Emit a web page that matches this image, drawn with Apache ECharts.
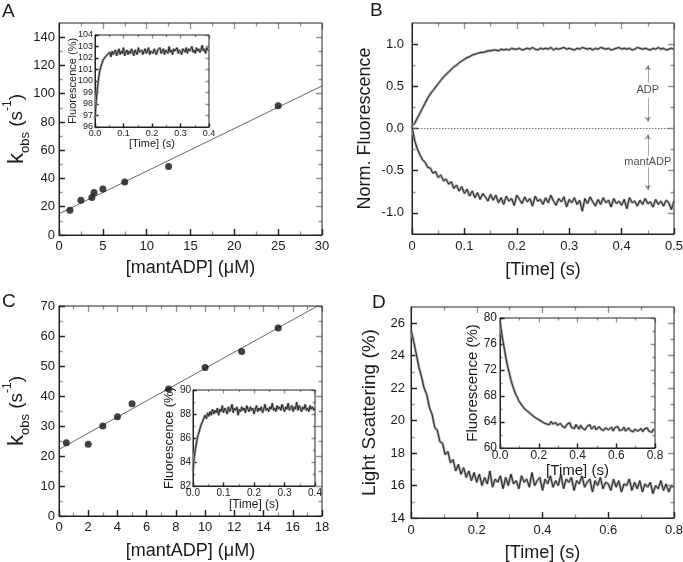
<!DOCTYPE html>
<html><head><meta charset="utf-8">
<script src="https://cdn.jsdelivr.net/npm/echarts@6/dist/echarts.min.js"></script>
<style>html,body{margin:0;padding:0;background:#fff}#c{width:683px;height:562px}</style>
</head><body><div id="c"></div>
<script>
// ---------------- DATA ----------------
// Panel A: kobs vs [mantADP]
const aConc = [1.25, 2.5, 3.75, 4, 5, 7.5, 12.5, 25];
const aKobs = [17.5, 24.5, 26.5, 30, 32.5, 37.5, 48.5, 91.5];
const aFitX = [0, 30];
const aFitY = [15, 105.5];
// Panel A inset: fluorescence trace (time from 0, step 0.004 s)
const aInsetT0 = 0, aInsetDt = 0.004;
const aInsetF = [96.8,98.2,99.3,100.1,100.8,101.2,101.5,101.8,101.9,102.1,
102.0,102.3,102.2,102.5,102.1,102.6,102.3,102.4,102.7,102.2,
102.5,102.8,102.3,102.6,102.4,102.9,102.2,102.5,102.7,102.3,
102.6,102.4,102.8,102.5,102.2,102.7,102.6,102.3,102.9,102.5,
102.4,102.7,102.3,102.6,102.8,102.4,102.5,102.9,102.3,102.6,
102.7,102.4,102.8,102.5,102.3,102.7,102.6,102.9,102.4,102.5,
102.8,102.3,102.7,102.6,102.4,103.0,102.5,102.7,102.3,102.8,
102.6,102.5,102.9,102.4,102.7,102.6,102.3,102.8,102.7,102.5,
102.9,102.4,102.8,102.6,102.7,103.0,102.5,102.7,102.4,102.9,
102.6,102.8,102.5,102.7,103.1,102.6,102.8,102.4,102.9,102.7,
102.6];
// Panel B: normalised fluorescence traces (time from 0, step 0.005 s)
const bT0 = 0, bDt = 0.005;
const bADP = [0.03,0.06,0.12,0.18,0.24,0.30,0.36,0.41,0.45,0.49,
0.53,0.57,0.61,0.64,0.67,0.70,0.73,0.75,0.78,0.80,
0.82,0.84,0.85,0.87,0.88,0.89,0.90,0.90,0.91,0.92,
0.92,0.93,0.93,0.92,0.94,0.93,0.94,0.93,0.95,0.94,0.94,
0.95,0.93,0.94,0.95,0.94,0.96,0.94,0.93,0.95,0.94,
0.95,0.94,0.96,0.93,0.95,0.94,0.95,0.96,0.94,0.95,
0.94,0.93,0.95,0.94,0.96,0.95,0.94,0.95,0.93,0.95,
0.94,0.96,0.95,0.94,0.95,0.93,0.94,0.95,0.96,0.94,
0.95,0.94,0.95,0.93,0.94,0.96,0.95,0.94,0.95,0.94,
0.93,0.95,0.94,0.96,0.94,0.95,0.93,0.94,0.95,0.94];
const bMantADP = [0.02,-0.14,-0.24,-0.31,-0.37,-0.40,-0.46,-0.47,-0.53,-0.51,
-0.58,-0.55,-0.62,-0.60,-0.66,-0.63,-0.71,-0.67,-0.74,-0.69,-0.77,
-0.72,-0.80,-0.74,-0.82,-0.76,-0.84,-0.77,-0.81,-0.86,-0.78,
-0.85,-0.79,-0.88,-0.82,-0.90,-0.80,-0.86,-0.83,-0.91,-0.79,
-0.84,-0.89,-0.81,-0.87,-0.83,-0.92,-0.80,-0.86,-0.84,-0.90,
-0.82,-0.88,-0.79,-0.86,-0.91,-0.83,-0.87,-0.81,-0.93,-0.84,
-0.88,-0.82,-0.90,-0.85,-0.98,-0.83,-0.89,-0.81,-0.87,-0.92,
-0.84,-0.90,-0.82,-0.88,-0.85,-0.93,-0.83,-0.89,-0.86,-0.91,
-0.84,-0.95,-0.82,-0.88,-0.86,-0.92,-0.85,-0.90,-0.83,-0.89,
-0.87,-0.93,-0.84,-0.90,-0.86,-0.92,-0.85,-0.88,-0.96,-0.86];
// Panel B annotations
const bArrowX = 0.45;
const bArrows = [[0.54, 0.75], [0.36, 0.08], [-0.32, -0.07], [-0.46, -0.73]];
const bLabels = [['ADP', 0.46], ['mantADP', -0.40]];
// Panel C: kobs vs [mantADP]
const cConc = [0.5, 2, 3, 4, 5, 7.5, 10, 12.5, 15];
const cKobs = [24.4, 23.9, 30.0, 33.1, 37.4, 42.3, 49.5, 54.8, 62.7];
const cFitX = [0, 17.7];
const cFitY = [22.2, 70];
// Panel C inset (time from 0, step 0.004 s)
const cInsetT0 = 0, cInsetDt = 0.004;
const cInsetF = [83.3,84.4,85.1,85.7,86.2,86.5,86.9,87.2,87.4,87.7,
87.9,87.6,88.1,87.8,88.2,87.9,88.4,88.0,88.3,88.1,
88.5,87.9,88.4,88.2,88.7,88.1,88.5,88.3,88.0,88.6,
88.2,88.4,88.8,88.1,88.5,88.3,88.6,87.9,88.4,88.2,
88.6,88.3,88.5,88.1,88.7,88.4,88.2,88.6,88.3,88.5,
88.0,88.4,88.7,88.2,88.5,88.3,88.6,88.1,88.4,88.8,
88.3,88.5,88.2,88.6,88.4,88.9,88.3,88.5,88.2,88.7,
88.4,88.6,88.3,88.8,88.5,88.2,88.6,88.4,88.9,88.3,
88.5,88.7,88.2,88.6,88.4,89.0,88.3,88.7,88.5,88.2,
88.6,88.4,88.8,88.3,88.5,88.2,88.7,88.4,88.6,88.3,88.5];
// Panel D: light scattering (time from 0, step 0.008 s)
const dT0 = 0, dDt = 0.008;
const dLS = [25.6,24.9,24.1,23.3,22.7,22.0,21.6,20.8,20.4,19.6,
19.4,18.7,18.6,17.9,18.1,17.4,17.6,16.9,17.3,16.7,
17.1,16.5,16.9,16.3,16.8,16.2,
16.7,16.0,16.5,16.1,16.9,15.9,16.4,16.2,16.6,15.8,
16.5,16.0,16.7,16.1,16.3,15.8,16.6,16.2,16.4,15.9,
16.8,16.0,16.3,16.5,15.7,16.4,16.1,16.6,15.9,16.3,
16.0,16.7,15.8,16.4,16.2,16.5,15.7,16.3,16.1,16.6,
15.9,16.2,16.4,15.6,16.3,16.0,16.5,15.8,16.2,16.1,
15.7,16.4,15.9,16.3,15.6,16.1,16.0,16.4,15.7,16.2,
15.8,16.3,15.6,16.1,15.9,16.2,15.5,16.0,15.8,16.3,
15.7,16.1,15.6,16.0,15.9];
// Panel D inset (time from 0, step 0.008 s)
const dInsetT0 = 0, dInsetDt = 0.008;
const dInsetF = [79.5,77.8,76.3,75.0,73.6,72.5,71.5,70.5,69.7,69.0,
68.3,67.9,67.3,67.1,66.6,66.5,66.0,66.1,65.6,65.7,
65.2,65.3,64.8,65.0,64.5,64.6,
64.2,64.4,63.9,64.2,63.7,64.0,63.6,64.1,63.7,63.5,
63.9,63.5,63.2,63.8,63.4,63.7,63.1,63.6,63.3,63.9,
63.2,63.5,63.0,63.6,63.3,62.9,63.5,63.1,63.4,62.8,
63.3,63.0,63.6,62.9,63.2,63.4,62.8,63.1,63.3,62.9,
63.2,62.7,63.1,63.4,62.8,63.0,63.2,62.6,63.1,62.9,
63.3,62.7,63.0,62.8,63.2,62.6,62.9,63.1,62.7,63.0,
62.5,62.9,63.1,62.6,62.8,63.0,62.5,62.9,62.7,63.1,
62.6,62.8,62.4,62.9,62.7];
// Tick values
const aXTicks = [0,5,10,15,20,25,30], aXMinor = [2.5,7.5,12.5,17.5,22.5,27.5];
const aYTicks = [0,20,40,60,80,100,120,140], aYMinor = [10,30,50,70,90,110,130];
const aiXTicks = [0,0.1,0.2,0.3,0.4], aiXMinor = [0.05,0.15,0.25,0.35];
const aiYTicks = [96,97,98,99,100,101,102,103,104], aiYMinor = [];
const bXTicks = [0,0.1,0.2,0.3,0.4,0.5], bXMinor = [0.05,0.15,0.25,0.35,0.45];
const bYTicks = [-1,-0.5,0,0.5,1], bYMinor = [-0.75,-0.25,0.25,0.75];
const cXTicks = [0,2,4,6,8,10,12,14,16,18], cXMinor = [1,3,5,7,9,11,13,15,17];
const cYTicks = [0,10,20,30,40,50,60,70], cYMinor = [5,15,25,35,45,55,65];
const ciXTicks = [0,0.1,0.2,0.3,0.4], ciXMinor = [0.05,0.15,0.25,0.35];
const ciYTicks = [82,84,86,88,90], ciYMinor = [83,85,87,89];
const dXTicks = [0,0.2,0.4,0.6,0.8], dXMinor = [0.1,0.3,0.5,0.7];
const dYTicks = [14,16,18,20,22,24,26], dYMinor = [15,17,19,21,23,25];
const diXTicks = [0,0.2,0.4,0.6,0.8], diXMinor = [0.1,0.3,0.5,0.7];
const diYTicks = [60,64,68,72,76,80], diYMinor = [62,66,70,74,78];

// ---------------- CHART ----------------
const FONT = '"Liberation Sans", Arial, sans-serif';
const AX = '#222';
const TXT = '#1a1a1a';
const chart = echarts.init(document.getElementById('c'));

function trace(t0, dt, vals) { return vals.map((v, i) => [t0 + i * dt, v]); }
function pairs(xs, ys) { return xs.map((x, i) => [x, ys[i]]); }

const fmtInt = v => String(Math.round(v));
const fmt1 = v => v.toFixed(1);
const fmt1z = v => (v === 0 ? '0' : v.toFixed(1));

const grids = [
  {left: 59, top: 23, width: 263, height: 212},   // 0 A
  {left: 95, top: 35, width: 114, height: 92},    // 1 A inset
  {left: 412, top: 23, width: 262, height: 211},  // 2 B
  {left: 59, top: 306, width: 263, height: 210},  // 3 C
  {left: 193, top: 390, width: 122, height: 96},  // 4 C inset
  {left: 411, top: 307, width: 263, height: 211}, // 5 D
  {left: 500, top: 318, width: 155, height: 130}  // 6 D inset
];

const xAxes = [], yAxes = [];
const ranges = {};
function axisSet(dim, gi, c) {
  ranges[gi] = ranges[gi] || {};
  ranges[gi][dim] = c;
  const ax = {gridIndex: gi, type: 'value', min: c.min, max: c.max,
    position: dim === 'x' ? 'bottom' : 'left',
    splitLine: {show: false},
    axisLine: {show: true, onZero: false, lineStyle: {color: AX, width: 1}},
    axisTick: {show: true, inside: true, length: c.tl || 6, customValues: c.majors,
      lineStyle: {color: AX, width: 1.3}},
    axisLabel: {show: true, customValues: c.majors, formatter: c.fmt, fontSize: c.fs, color: TXT,
      margin: c.margin, fontFamily: FONT, hideOverlap: false},
    name: c.name, nameLocation: 'middle', nameGap: c.nameGap, nameMoveOverlap: false,
    nameTextStyle: Object.assign({fontFamily: FONT, color: TXT, fontSize: c.nfs}, c.nameStyle || {})};
  (dim === 'x' ? xAxes : yAxes).push(ax);
}

// inward ticks on all four sides, placed in data space of each panel
function makeTicks(gi) {
  const rx = ranges[gi].x, ry = ranges[gi].y, g = grids[gi];
  const ux = (rx.max - rx.min) / g.width, uy = (ry.max - ry.min) / g.height;
  const segs = [];
  const xt = (v, len) => {
    segs.push([[v, ry.min], [v, ry.min + len * uy]]);
    segs.push([[v, ry.max], [v, ry.max - len * uy]]);
  };
  const yt = (v, len) => {
    segs.push([[rx.min, v], [rx.min + len * ux, v]]);
    segs.push([[rx.max, v], [rx.max - len * ux, v]]);
  };
  rx.majors.forEach(v => xt(v, rx.tl || 6));
  rx.minors.forEach(v => xt(v, rx.ml || 3.5));
  ry.majors.forEach(v => yt(v, ry.tl || 6));
  ry.minors.forEach(v => yt(v, ry.ml || 3.5));
  return {type: 'lines', coordinateSystem: 'cartesian2d', xAxisIndex: gi, yAxisIndex: gi,
    lineStyle: {color: AX, width: 1.3},
    data: segs.map(s => ({coords: s}))};
}

const kobsName = '{k|k}{s|obs}{n| (s}{p|-1}{n|)}';
const kobsStyle = {rich: {
  k: {fontSize: 22, fontFamily: FONT, color: TXT, lineHeight: 30, verticalAlign: 'middle'},
  s: {fontSize: 13, fontFamily: FONT, color: TXT, lineHeight: 14, verticalAlign: 'bottom'},
  n: {fontSize: 19, fontFamily: FONT, color: TXT, lineHeight: 30, verticalAlign: 'middle'},
  p: {fontSize: 12, fontFamily: FONT, color: TXT, lineHeight: 14, verticalAlign: 'top'}
}};

// A
axisSet('x', 0, {min: 0, max: 30, majors: aXTicks, minors: aXMinor, fmt: fmtInt, fs: 13, margin: 5,
  name: '[mantADP] (\u03bcM)', nameGap: 24, nfs: 18});
axisSet('y', 0, {min: 0, max: 150, majors: aYTicks, minors: aYMinor, fmt: fmtInt, fs: 13, margin: 4,
  name: kobsName, nameGap: 27, nfs: 19, nameStyle: kobsStyle});
// A inset
axisSet('x', 1, {min: 0, max: 0.4, majors: aiXTicks, minors: aiXMinor, fmt: fmt1, fs: 9, margin: 2,
  name: '[Time] (s)', nameGap: 11, nfs: 11, tl: 3.5, ml: 2.2});
axisSet('y', 1, {min: 96, max: 104, majors: aiYTicks, minors: aiYMinor, fmt: fmtInt, fs: 9, margin: 2,
  name: 'Fluorescence (%)', nameGap: 17, nfs: 11, tl: 3.5, ml: 2.2});
// B
axisSet('x', 2, {min: 0, max: 0.5, majors: bXTicks, minors: bXMinor, fmt: fmt1z, fs: 13, margin: 6,
  name: '[Time] (s)', nameGap: 27, nfs: 18});
axisSet('y', 2, {min: -1.25, max: 1.25, majors: bYTicks, minors: bYMinor, fmt: fmt1, fs: 13, margin: 8,
  name: 'Norm. Fluorescence', nameGap: 38, nfs: 18});
// C
axisSet('x', 3, {min: 0, max: 18, majors: cXTicks, minors: cXMinor, fmt: fmtInt, fs: 13, margin: 5,
  name: '[mantADP] (\u03bcM)', nameGap: 26, nfs: 18});
axisSet('y', 3, {min: 0, max: 70, majors: cYTicks, minors: cYMinor, fmt: fmtInt, fs: 13, margin: 4,
  name: kobsName, nameGap: 27, nfs: 19, nameStyle: kobsStyle});
// C inset
axisSet('x', 4, {min: 0, max: 0.4, majors: ciXTicks, minors: ciXMinor, fmt: fmt1, fs: 10, margin: 2,
  name: '[Time] (s)', nameGap: 13, nfs: 12, tl: 3.5, ml: 2.2});
axisSet('y', 4, {min: 82, max: 90, majors: ciYTicks, minors: ciYMinor, fmt: fmtInt, fs: 10, margin: 2,
  name: 'Fluorescence (%)', nameGap: 17, nfs: 13, tl: 3.5, ml: 2.2});
// D
axisSet('x', 5, {min: 0, max: 0.8, majors: dXTicks, minors: dXMinor, fmt: fmt1z, fs: 13, margin: 6,
  name: '[Time] (s)', nameGap: 26, nfs: 18});
axisSet('y', 5, {min: 14, max: 27, majors: dYTicks, minors: dYMinor, fmt: fmtInt, fs: 13, margin: 6,
  name: 'Light Scattering (%)', nameGap: 32, nfs: 19});
// D inset
axisSet('x', 6, {min: 0, max: 0.8, majors: diXTicks, minors: diXMinor, fmt: fmt1, fs: 12, margin: 2,
  name: '[Time] (s)', nameGap: 15, nfs: 15, tl: 4.5, ml: 2.5});
axisSet('y', 6, {min: 60, max: 80, majors: diYTicks, minors: diYMinor, fmt: fmtInt, fs: 12, margin: 3,
  name: 'Fluorescence (%)', nameGap: 20, nfs: 15, tl: 4.5, ml: 2.5});

function lineS(g, data, extra) {
  return Object.assign({type: 'line', xAxisIndex: g, yAxisIndex: g, data: data,
    showSymbol: false, symbol: 'none', clip: true,
    lineStyle: {color: '#222', width: 1}}, extra || {});
}
// noisy stopped-flow trace: grey noise band under a dark line
function traceS(g, data) {
  return [lineS(g, data, {lineStyle: {color: '#a3a3a3', width: 2.6}, z: 2}),
          lineS(g, data, {lineStyle: {color: '#262626', width: 1}, z: 3})];
}
function scatS(g, data) {
  return {type: 'scatter', xAxisIndex: g, yAxisIndex: g, data: data, symbolSize: 7,
    itemStyle: {color: '#111'}, z: 5};
}

const series = [
  lineS(0, pairs(aFitX, aFitY), {lineStyle: {color: '#555', width: 0.9}}),
  scatS(0, pairs(aConc, aKobs)),
  ...traceS(1, trace(aInsetT0, aInsetDt, aInsetF)),
  lineS(2, [[0, 0], [0.5, 0]], {lineStyle: {color: '#777', width: 1, type: [1.5, 1.5]}}),
  ...traceS(2, trace(bT0, bDt, bADP)),
  ...traceS(2, trace(bT0, bDt, bMantADP)),
  {type: 'lines', coordinateSystem: 'cartesian2d', xAxisIndex: 2, yAxisIndex: 2,
    symbol: ['none', 'arrow'], symbolSize: [0, 5],
    lineStyle: {color: '#222', width: 0.8},
    data: bArrows.map(a => ({coords: [[bArrowX, a[0]], [bArrowX, a[1]]]}))},
  {type: 'scatter', xAxisIndex: 2, yAxisIndex: 2, symbolSize: 0.01,
    itemStyle: {color: 'rgba(0,0,0,0)'},
    data: bLabels.map(l => [bArrowX, l[1], l[0]]),
    label: {show: true, position: 'inside', formatter: p => p.value[2], fontSize: 11, fontFamily: FONT, color: TXT}},
  lineS(3, pairs(cFitX, cFitY), {lineStyle: {color: '#555', width: 0.9}}),
  scatS(3, pairs(cConc, cKobs)),
  ...traceS(4, trace(cInsetT0, cInsetDt, cInsetF)),
  ...traceS(5, trace(dT0, dDt, dLS)),
  ...traceS(6, trace(dInsetT0, dInsetDt, dInsetF))
];
for (let g = 0; g < 7; g++) series.push(makeTicks(g));

const letter = (t, x, y) => ({type: 'text', left: x, top: y, style: {text: t, fontSize: 19, fontFamily: FONT, fill: TXT}});

chart.setOption({
  animation: false,
  grid: grids.map((g, i) => Object.assign({show: true, containLabel: false, outerBoundsMode: 'none',
    backgroundColor: [1, 4, 6].includes(i) ? '#fff' : 'transparent',
    borderColor: AX, borderWidth: 1}, g)),
  xAxis: xAxes,
  yAxis: yAxes,
  series: series,
  graphic: [letter('A', 2, 2), letter('B', 370, 1), letter('C', 2, 292), letter('D', 372, 293)]
});
</script>
</body></html>
